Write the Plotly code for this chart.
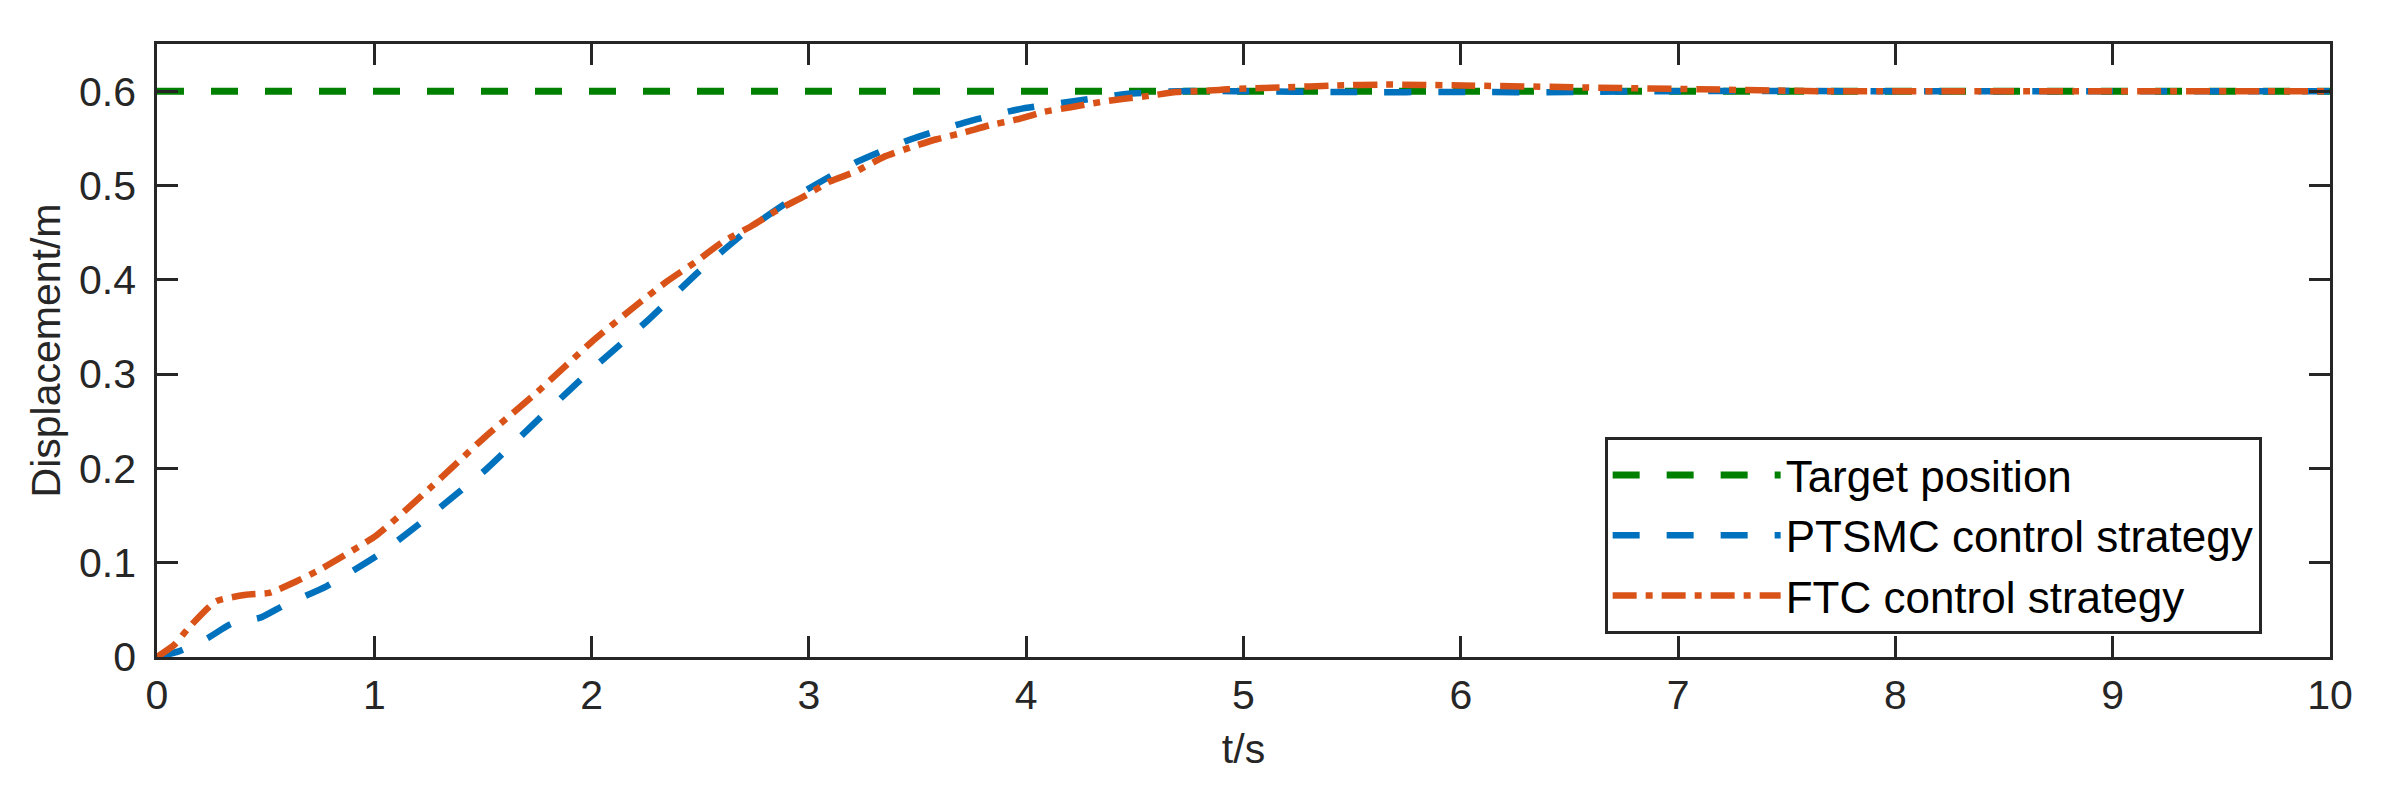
import plotly.graph_objects as go

# ---- data ----
t_target = [0, 10]
y_target = [0.6, 0.6]

t_ptsmc = [0, 0.1, 0.233, 0.34, 0.479, 0.586, 0.78, 1.03, 1.267, 1.51, 1.76, 2.006, 2.254,
           2.49, 2.736, 2.98, 3.22, 3.47, 3.72, 3.97, 4.21, 4.46, 4.70, 4.95, 5.5, 6.0, 6.5,
           7.0, 8.0, 10]
y_ptsmc = [0, 0.006, 0.020, 0.035, 0.042, 0.055, 0.075, 0.110, 0.152, 0.198, 0.253, 0.306, 0.356,
           0.408, 0.456, 0.494, 0.525, 0.549, 0.567, 0.581, 0.589, 0.597, 0.600, 0.600, 0.599, 0.599, 0.599,
           0.600, 0.600, 0.600]

t_ftc = [0, 0.08, 0.146, 0.27, 0.41, 0.517, 0.64, 0.76, 1.01, 1.256, 1.503, 1.75, 2.0, 2.2, 2.345,
         2.479, 2.602, 2.736, 2.849, 2.982, 3.095, 3.218, 3.342, 3.475, 3.588, 3.711, 3.835, 3.958,
         4.08, 4.205, 4.33, 4.45, 4.564, 4.69, 4.81, 4.93, 5.18, 5.43, 5.65, 6.01, 6.56, 7.10, 7.65,
         8.4, 10]
y_ftc = [0, 0.013, 0.031, 0.059, 0.066, 0.068, 0.080, 0.094, 0.129, 0.179, 0.232, 0.281, 0.334, 0.372, 0.398,
         0.419, 0.440, 0.457, 0.473, 0.489, 0.504, 0.515, 0.530, 0.541, 0.549, 0.556, 0.564, 0.570,
         0.578, 0.583, 0.588, 0.592, 0.595, 0.599, 0.600, 0.602, 0.604, 0.606, 0.607, 0.606, 0.604, 0.602, 0.600,
         0.600, 0.600]

names = ["Target position", "PTSMC control strategy", "FTC control strategy"]
x_ticks = list(range(0, 11))
y_ticks = [0, 0.1, 0.2, 0.3, 0.4, 0.5, 0.6]
y_tick_text = ["0", "0.1", "0.2", "0.3", "0.4", "0.5", "0.6"]

FONT = "Liberation Sans, Arial, sans-serif"
AXC = "#262626"

fig = go.Figure()
fig.add_trace(go.Scatter(x=t_target, y=y_target, mode="lines", name=names[0],
                         line=dict(color="#008000", width=7, dash="27px,27px")))
fig.add_trace(go.Scatter(x=t_ptsmc, y=y_ptsmc, mode="lines", name=names[1],
                         line=dict(color="#0072BD", width=6.5, dash="27px,27px", shape="spline", smoothing=0.5)))
fig.add_trace(go.Scatter(x=t_ftc, y=y_ftc, mode="lines", name=names[2],
                         line=dict(color="#D95319", width=6.5, dash="24px,9px,7px,9px", shape="spline", smoothing=0.5)))

axis_common = dict(showline=True, linecolor=AXC, linewidth=2.5, mirror="ticks",
                   ticks="inside", ticklen=21, tickwidth=2.5, tickcolor=AXC,
                   showgrid=False, zeroline=False,
                   tickfont=dict(family=FONT, size=41, color=AXC))

fig.update_xaxes(range=[0, 10], tickvals=x_ticks, ticklabelstandoff=0,
                 title=dict(text="t/s", font=dict(family=FONT, size=41, color=AXC), standoff=18),
                 **axis_common)
fig.update_yaxes(range=[0, 0.65], tickvals=y_ticks, ticktext=y_tick_text, ticklabelstandoff=10,
                 title=dict(text="Displacement/m", font=dict(family=FONT, size=41, color=AXC), standoff=6),
                 **axis_common)

fig.update_layout(
    width=2385, height=803,
    margin=dict(l=149, r=63, t=36, b=154, autoexpand=False),
    paper_bgcolor="white", plot_bgcolor="white",
    showlegend=True,
    legend=dict(x=0.6662, y=0.3589, xanchor="left", yanchor="top",
                bgcolor="white", bordercolor=AXC, borderwidth=3,
                font=dict(family=FONT, size=44, color="#000000"),
                itemwidth=168, tracegroupgap=0),
)

fig.write_html("out.html")
